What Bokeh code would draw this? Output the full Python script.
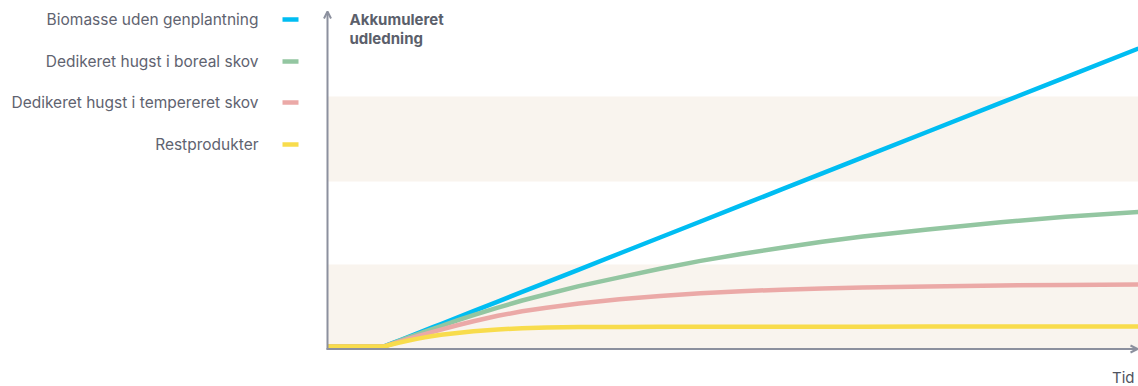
from bokeh.plotting import figure
from bokeh.models import Range1d, Label, BoxAnnotation, Arrow, OpenHead
from bokeh.embed import file_html
from bokeh.resources import INLINE

# ---- data ----
series_names = ["Biomasse uden genplantning", "Dedikeret hugst i boreal skov",
                "Dedikeret hugst i tempereret skov", "Restprodukter"]
series_colors = ["#00bdf2", "#93c6a1", "#eba9a7", "#f8dc4c"]
time = [0, 7, 8, 9, 10, 11, 12, 13, 14, 16, 18, 21, 24, 27, 31, 36, 41, 46, 51, 56, 61, 66, 74, 83, 91, 100]
biomasse = [0.7, 0.7, 1.77, 2.84, 3.9, 4.97, 6.04, 7.11, 8.17, 10.31, 12.44, 15.65, 18.85, 22.05,
            26.32, 31.66, 37.0, 42.34, 47.68, 53.02, 58.36, 63.69, 72.24, 81.85, 90.39, 100.0]
boreal = [0.7, 0.7, 1.7, 2.7, 3.7, 4.65, 5.6, 6.55, 7.5, 9.35, 11.1, 13.6, 16.0, 18.1,
          20.8, 23.7, 26.6, 29.2, 31.5, 33.6, 35.6, 37.3, 39.7, 42.1, 43.9, 45.5]
tempereret = [0.7, 0.7, 1.55, 2.4, 3.2, 4.0, 4.8, 5.55, 6.3, 7.75, 9.1, 10.9, 12.4, 13.6,
              15.0, 16.4, 17.5, 18.4, 19.1, 19.6, 20.0, 20.3, 20.7, 21.0, 21.2, 21.3]
rest = [0.7, 0.7, 1.4, 2.05, 2.65, 3.2, 3.7, 4.15, 4.55, 5.2, 5.75, 6.35, 6.75, 7.0,
        7.15, 7.2, 7.22, 7.24, 7.25, 7.26, 7.27, 7.28, 7.3, 7.3, 7.3, 7.3]
band_bottoms = [0, 55.7]
band_tops = [28, 84]
y_title = ["Akkumuleret", "udledning"]
x_title = "Tid"

# ---- layout ----
W, H = 1138, 386
X0_PX, X1_PX = 327, 1138      # pixel of t=0 and t=100
Y0_PX, YSCALE = 348, 3.0      # pixel of value 0, pixels per unit
xs = (X1_PX - X0_PX) / 100.0


def tx(px):
    return (px - X0_PX) / xs


def vy(py):
    return (Y0_PX - py) / YSCALE


p = figure(width=W, height=H, output_backend="svg", toolbar_location=None,
           x_range=Range1d(tx(0), tx(W)), y_range=Range1d(vy(H), vy(0)),
           min_border=0, min_border_left=0, min_border_right=0,
           min_border_top=0, min_border_bottom=0)
p.axis.visible = False
p.grid.visible = False
p.outline_line_color = None
p.background_fill_color = "white"
p.border_fill_color = "white"

for b, t in zip(band_bottoms, band_tops):
    p.add_layout(BoxAnnotation(left=0, right=100, bottom=b, top=t,
                               fill_color="#f9f4ee", fill_alpha=1, line_color=None,
                               level="underlay"))

FONT = "Inter"
TXT = "#5f6370"

for ys, c in zip([biomasse, boreal, tempereret, rest], series_colors):
    p.line(time, ys, line_color=c, line_width=4.5, line_join="round")

axis_col = "#8c909e"
p.add_layout(Arrow(x_start=0, y_start=vy(349), x_end=0, y_end=vy(11),
                   line_color=axis_col, line_width=2,
                   end=OpenHead(size=7, line_color=axis_col, line_width=2)))
p.add_layout(Arrow(x_start=tx(326), y_start=vy(348.5), x_end=tx(1137), y_end=vy(348.5),
                   line_color=axis_col, line_width=2,
                   end=OpenHead(size=7, line_color=axis_col, line_width=2)))

# legend (custom: label on the left, swatch on the right)
leg_y = [19, 61, 102, 144]
for name, c, py in zip(series_names, series_colors, leg_y):
    p.add_layout(Label(x=258, y=H - py, x_units="screen", y_units="screen",
                       text=name, text_align="right", text_baseline="middle",
                       text_font=FONT, text_font_size="15.5px", text_color=TXT))
    p.segment(x0=[tx(282)], y0=[vy(py)], x1=[tx(298)], y1=[vy(py)],
              line_color=c, line_width=4.5)

for i, s in enumerate(y_title):
    p.add_layout(Label(x=349, y=H - (19 + 19 * i), x_units="screen", y_units="screen",
                       text=s, text_align="left", text_baseline="middle",
                       text_font=FONT, text_font_size="15px", text_font_style="bold",
                       text_color="#5b5f6b"))

p.add_layout(Label(x=1134, y=H - 377, x_units="screen", y_units="screen",
                   text=x_title, text_align="right", text_baseline="middle",
                   text_font=FONT, text_font_size="15px", text_color="#4f5360"))

open("out.html", "w").write(file_html(p, INLINE))
